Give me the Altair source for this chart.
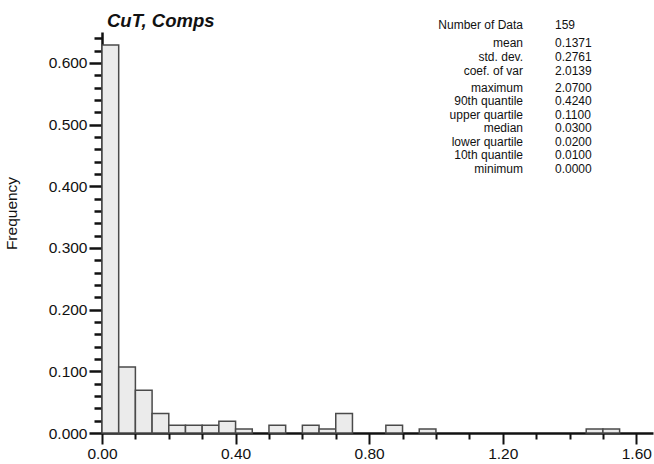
import altair as alt
import pandas as pd

# Histogram bins (lower edges, width 0.05) and counts
bin_lo = [0.00, 0.05, 0.10, 0.15, 0.20, 0.25, 0.30, 0.35, 0.40, 0.50,
          0.60, 0.65, 0.70, 0.85, 0.95, 1.45, 1.50]
counts = [100, 17, 11, 5, 2, 2, 2, 3, 1, 2, 2, 1, 5, 2, 1, 1, 1]
n_total = 159
bin_width = 0.05

stat_head = ["Number of Data"]
stat_head_val = ["159"]
stat_mom = ["mean", "std. dev.", "coef. of var"]
stat_mom_val = ["0.1371", "0.2761", "2.0139"]
stat_q = ["maximum", "90th quantile", "upper quartile", "median",
          "lower quartile", "10th quantile", "minimum"]
stat_q_val = ["2.0700", "0.4240", "0.1100", "0.0300", "0.0200", "0.0100", "0.0000"]

title_text = "CuT, Comps"
y_title = "Frequency"

df = pd.DataFrame({
    "lo": bin_lo,
    "hi": [round(v + bin_width, 2) for v in bin_lo],
    "freq": [c / n_total for c in counts],
})

FONT = "Liberation Sans"
y_ticks = [round(i * 0.02, 2) for i in range(33)]
x_ticks = [round(i * 0.1, 1) for i in range(17)]

y_major = "abs(datum.value*10 - round(datum.value*10)) < 0.001"
x_major = "abs(datum.value*2.5 - round(datum.value*2.5)) < 0.001"

xscale = alt.Scale(domain=[0, 1.65], nice=False, zero=False)
yscale = alt.Scale(domain=[0, 0.65], nice=False)

bars = alt.Chart(df).mark_rect(
    fill="#ebebeb", stroke="#4a4a4a", strokeWidth=1.5
).encode(
    x=alt.X("lo:Q", scale=xscale, axis=alt.Axis(
        values=x_ticks, title=None, grid=False,
        labelExpr=f"{x_major} ? format(datum.value, '.2f') : ''",
        labelFont=FONT, labelFontSize=15.5, labelColor="#111",
        labelFlush=False, labelOverlap=False, labelPadding=2,
        domainColor="#111", domainWidth=2.5,
        tickColor="#111", tickWidth=2,
        tickSize={"condition": {"test": x_major, "value": 11}, "value": 6},
    )),
    x2="hi:Q",
    y=alt.Y("freq:Q", scale=yscale, axis=alt.Axis(
        values=y_ticks, title=y_title, grid=False,
        labelExpr=f"{y_major} ? format(datum.value, '.3f') : ''",
        labelFont=FONT, labelFontSize=15.5, labelColor="#111",
        labelFlush=False, labelOverlap=False, labelPadding=2,
        domainColor="#111", domainWidth=2.5,
        tickColor="#111", tickWidth=2.5,
        tickSize={"condition": {"test": y_major, "value": 13}, "value": 8},
        titleFont=FONT, titleFontSize=15.5, titleFontWeight="normal",
        titleColor="#111", titleX=-91, titleY=181, titleAngle=270,
        titleAlign="center", titleBaseline="middle",
    )),
    y2=alt.datum(0),
)

title = alt.Chart().mark_text(
    text=title_text, font=FONT, fontSize=18.5, fontWeight="bold",
    fontStyle="italic", align="left", baseline="middle", color="#111"
).encode(x=alt.value(5), y=alt.value(-11))

FS = 12


def block(lines, x, y, align, lh):
    return alt.Chart().mark_text(
        text=lines, font=FONT, fontSize=FS, align=align, baseline="top",
        lineHeight=lh, color="#111"
    ).encode(x=alt.value(x), y=alt.value(y))


LX, VX = 421, 453
stats = [
    block(stat_head, LX, -12.2, "right", 14),
    block(stat_head_val, VX, -12.2, "left", 14),
    block(stat_mom, LX, 5.8, "right", 14),
    block(stat_mom_val, VX, 5.8, "left", 14),
    block(stat_q, LX, 50.8, "right", 13.5),
    block(stat_q_val, VX, 50.8, "left", 13.5),
]

chart = alt.layer(bars, title, *stats).properties(
    width=551, height=401,
    autosize=alt.AutoSizeParams(type="none"),
    padding={"left": 102, "top": 32, "right": 1, "bottom": 31},
    background="white",
).configure_view(stroke=None)

chart.save("out.html", embed_options={"renderer": "svg", "actions": False})
